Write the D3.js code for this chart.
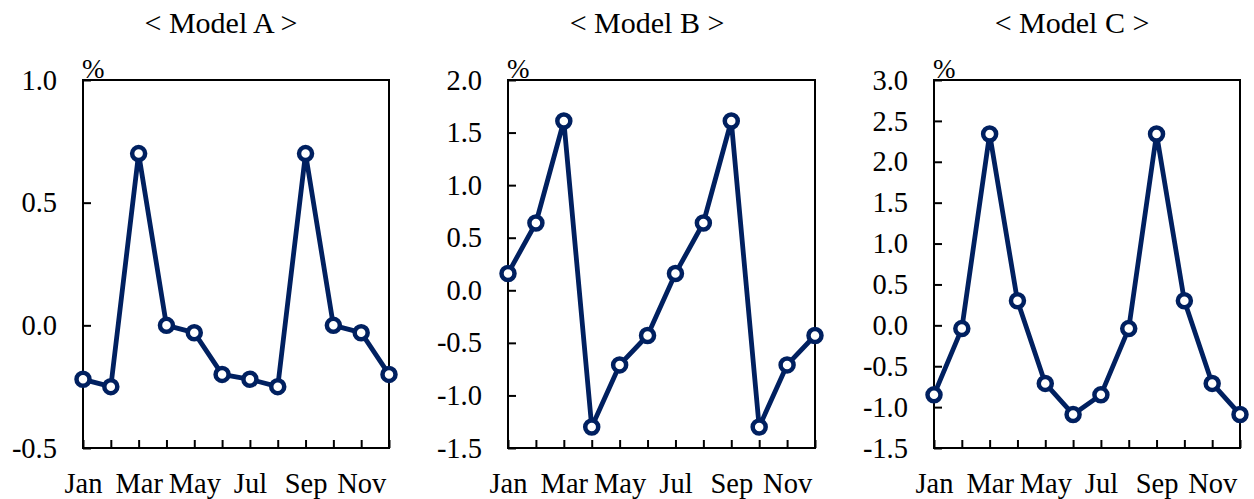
<!DOCTYPE html>
<html>
<head>
<meta charset="utf-8">
<script src="https://cdn.jsdelivr.net/npm/d3@7"></script>
<style>
  html, body { margin: 0; padding: 0; background: #fff; }
  svg { display: block; }
</style>
</head>
<body>
<svg id="chart" width="1254" height="499"></svg>
<script>
const months = ["Jan","Feb","Mar","Apr","May","Jun","Jul","Aug","Sep","Oct","Nov","Dec"];
const titles = ["< Model A >", "< Model B >", "< Model C >"];
const modelA = [-0.22, -0.25, 0.70, 0.00, -0.03, -0.20, -0.22, -0.25, 0.70, 0.00, -0.03, -0.20];
const modelB = [0.16, 0.64, 1.61, -1.30, -0.71, -0.43, 0.16, 0.64, 1.61, -1.30, -0.71, -0.43];
const modelC = [-0.85, -0.04, 2.34, 0.30, -0.71, -1.09, -0.85, -0.04, 2.34, 0.30, -0.71, -1.09];
const ticksA = [-0.5, 0.0, 0.5, 1.0];
const ticksB = [-1.5, -1.0, -0.5, 0.0, 0.5, 1.0, 1.5, 2.0];
const ticksC = [-1.5, -1.0, -0.5, 0.0, 0.5, 1.0, 1.5, 2.0, 2.5, 3.0];
const unitLabel = "%";

const panels = [
  { title: titles[0], values: modelA, ticks: ticksA, left: 83, right: 389, titleX: 221 },
  { title: titles[1], values: modelB, ticks: ticksB, left: 508, right: 815, titleX: 647 },
  { title: titles[2], values: modelC, ticks: ticksC, left: 934, right: 1240, titleX: 1072 }
];
const plotTop = 80, plotBottom = 448;
const lineColor = "#002060";
const FONT = "'Liberation Serif', 'DejaVu Serif', serif";

const svg = d3.select("#chart");

panels.forEach(p => {
  const g = svg.append("g");
  const x = d3.scalePoint().domain(months).range([p.left, p.right]).padding(0);
  const y = d3.scaleLinear().domain(d3.extent(p.ticks)).range([plotBottom, plotTop]);

  // title
  g.append("text").attr("x", p.titleX).attr("y", 33)
    .attr("text-anchor", "middle")
    .style("font-family", FONT).style("font-size", "30px").text(p.title);

  // y axis
  const ya = g.append("g").attr("transform", `translate(${p.left},0)`)
    .call(d3.axisLeft(y).tickValues(p.ticks).tickSize(-8).tickPadding(26));
  ya.attr("font-family", null).attr("font-size", null);
  ya.select(".domain").remove();
  ya.selectAll("line").attr("stroke", "#000").attr("stroke-width", 2);
  ya.selectAll("text").style("font-family", FONT).style("font-size", "28.5px").attr("fill", "#000")
    .text(d => d3.format(".1f")(d).replace("\u2212", "-"));

  // x axis
  const xa = g.append("g").attr("transform", `translate(0,${plotBottom})`)
    .call(d3.axisBottom(x).tickSize(-8).tickFormat((d, i) => i % 2 === 0 ? d : ""));
  xa.attr("font-family", null).attr("font-size", null);
  xa.select(".domain").remove();
  xa.selectAll("line").attr("stroke", "#000").attr("stroke-width", 2);
  xa.selectAll("text").style("font-family", FONT).style("font-size", "28.5px").attr("fill", "#000")
    .attr("y", 45).attr("dy", 0);

  // frame
  g.append("rect").attr("x", p.left).attr("y", plotTop)
    .attr("width", p.right - p.left).attr("height", plotBottom - plotTop)
    .attr("fill", "none").attr("stroke", "#000").attr("stroke-width", 2);

  // unit
  g.append("text").attr("x", p.left - 1).attr("y", 78)
    .style("font-family", FONT).style("font-size", "27px").text(unitLabel);

  // line
  const line = d3.line().x((d, i) => x(months[i])).y(d => y(d));
  g.append("path").datum(p.values).attr("d", line)
    .attr("fill", "none").attr("stroke", lineColor).attr("stroke-width", 4.8)
    .attr("stroke-linejoin", "round");

  g.selectAll("circle.pt").data(p.values).enter().append("circle")
    .attr("class", "pt")
    .attr("cx", (d, i) => x(months[i])).attr("cy", d => y(d))
    .attr("r", 6.5).attr("fill", "#fff").attr("stroke", lineColor).attr("stroke-width", 4.5);
});
</script>
</body>
</html>
